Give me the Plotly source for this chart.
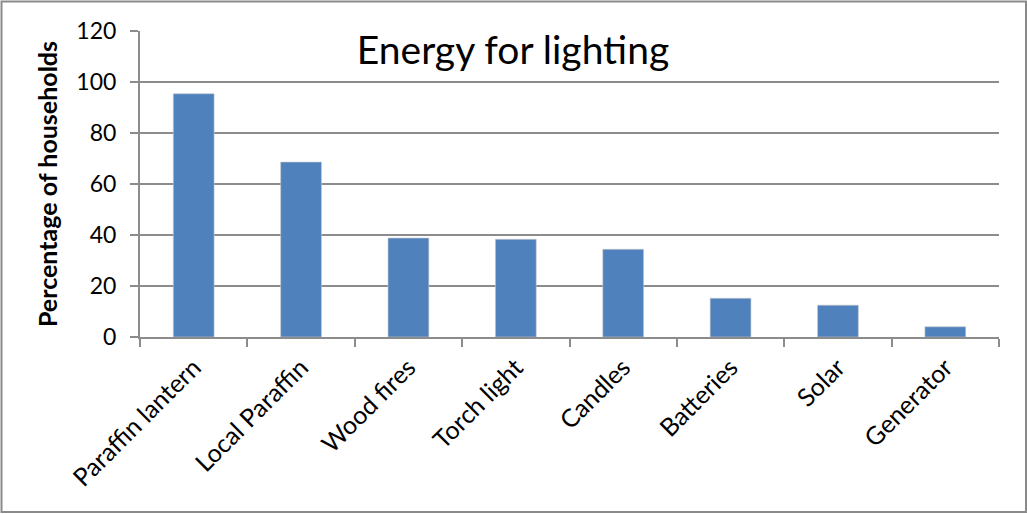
import plotly.graph_objects as go

# Share of households using each energy source for lighting
categories = ["Paraffin lantern", "Local Paraffin", "Wood fires", "Torch light",
              "Candles", "Batteries", "Solar", "Generator"]
percentages = [95.4, 68.6, 38.8, 38.3, 34.4, 15.2, 12.5, 4.0]
y_ticks = [0, 20, 40, 60, 80, 100, 120]

W, H = 1027, 514
ML, MR, MT, MB = 140, 28, 31, 177
GRID = "#8c8c8c"
FONT = "Lato"

fig = go.Figure()
fig.add_trace(go.Bar(
    x=categories,
    y=percentages,
    width=0.38,
    marker=dict(color="#4F81BD", line=dict(color="rgba(200,200,200,0.6)", width=1)),
    hoverinfo="x+y",
))

# Outer chart frame, expressed relative to the plot area
pw, ph = W - ML - MR, H - MT - MB
fig.add_shape(
    type="rect", xref="paper", yref="paper",
    x0=(1.5 - ML) / pw, x1=(W - 1 - ML) / pw,
    y0=(H - MB - (H - 2)) / ph, y1=(H - MB - 1.5) / ph,
    line=dict(color="#8a8a8a", width=2), fillcolor="rgba(0,0,0,0)", layer="below",
)

fig.update_layout(
    width=W, height=H,
    margin=dict(l=ML, r=MR, t=MT, b=MB),
    paper_bgcolor="white", plot_bgcolor="white",
    showlegend=False,
    font=dict(family=FONT, color="black"),
    title=dict(
        text="Energy for lighting",
        x=513 / W, xanchor="center", xref="container",
        y=1 - 50 / H, yanchor="middle", yref="container",
        font=dict(family=FONT, size=39, color="black"),
    ),
    bargap=0.62,
)

fig.update_xaxes(
    type="category",
    tickangle=-45,
    tickfont=dict(family=FONT, size=25, color="black"),
    showline=True, linecolor=GRID, linewidth=2,
    ticks="outside", tickson="boundaries", ticklen=8, tickwidth=2, tickcolor=GRID,
    ticklabelstandoff=4,
    showgrid=False,
)

fig.update_yaxes(
    range=[0, 120],
    tickvals=y_ticks,
    tickfont=dict(family=FONT, size=23, color="black"),
    showline=True, linecolor=GRID, linewidth=2,
    ticks="outside", ticklen=8, tickwidth=2, tickcolor=GRID,
    ticklabelstandoff=9,
    showgrid=True, gridcolor=GRID, gridwidth=2,
    zeroline=False,
    title=dict(text="<b>Percentage of households</b>", standoff=12,
               font=dict(family=FONT, size=25, color="black")),
)

fig.write_html("out.html")
